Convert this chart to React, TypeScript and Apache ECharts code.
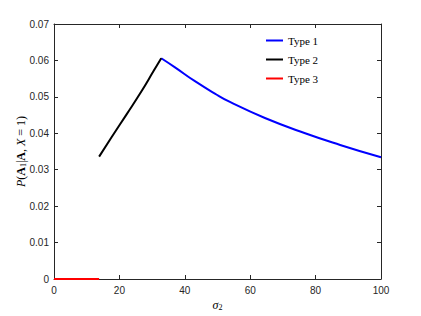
import React, { useEffect, useRef } from "react";
import * as echarts from "echarts";

const type1X = [32.8, 37.0, 43.1, 49.2, 53.8, 64.5, 76.8, 87.5, 100];
const type1Y = [0.0606, 0.0581, 0.0543, 0.0509, 0.0486, 0.0442, 0.04, 0.0368, 0.0334];
const type2X = [13.8, 17.6, 22.2, 26.8, 30.4, 32.8];
const type2Y = [0.0336, 0.0389, 0.0452, 0.0516, 0.057, 0.0606];
const type3X = [0, 13.8];
const type3Y = [0, 0];
const seriesNames = ["Type 1", "Type 2", "Type 3"];
const seriesColors = ["#0000ff", "#000000", "#ff0000"];

const zip = (xs: number[], ys: number[]) => xs.map((x, i) => [x, ys[i]]);

export default function App() {
  const ref = useRef<HTMLDivElement>(null);
  useEffect(() => {
    if (!ref.current) return;
    const chart = echarts.init(ref.current, undefined, { renderer: "svg" });
    const axisColor = "#262626";
    const tickLabel = { color: axisColor, fontFamily: "Liberation Sans", fontSize: 10 };
    const datasets = [zip(type1X, type1Y), zip(type2X, type2Y), zip(type3X, type3Y)];
    const tick = { show: true, inside: true, length: 4, lineStyle: { color: axisColor, width: 1 } };
    const line = { show: true, onZero: false, lineStyle: { color: axisColor, width: 1 } };
    chart.setOption({
      animation: false,
      backgroundColor: "#ffffff",
      grid: { left: 54, right: 40, top: 24, bottom: 35, containLabel: false },
      legend: {
        orient: "vertical",
        left: 261,
        top: 30,
        itemWidth: 17,
        itemHeight: 2,
        itemGap: 8,
        itemTextGap: 7,
        icon: "rect",
        data: seriesNames,
        textStyle: { fontFamily: "Liberation Serif", fontSize: 11, color: "#000" },
      },
      xAxis: [
        {
          type: "value",
          min: 0,
          max: 100,
          interval: 20,
          name: "{i|σ}{s|2}",
          nameLocation: "middle",
          nameGap: 19,
          nameMoveOverlap: false,
          nameTextStyle: {
            rich: {
              i: { fontFamily: "Liberation Serif", fontStyle: "italic", fontSize: 12, color: "#000" },
              s: { fontFamily: "Liberation Serif", fontSize: 8, color: "#000", padding: [5, 0, 0, 0] },
            },
          },
          axisLine: line,
          axisTick: tick,
          axisLabel: { ...tickLabel, margin: 6 },
          splitLine: { show: false },
        },
        {
          type: "value",
          position: "top",
          min: 0,
          max: 100,
          interval: 20,
          axisLine: line,
          axisTick: tick,
          axisLabel: { show: false },
          splitLine: { show: false },
        },
      ],
      yAxis: [
        {
          type: "value",
          min: 0,
          max: 0.07,
          interval: 0.01,
          name: "{i|P}({b|A}{s|1}|{b|A}, {i|X} = 1)",
          nameLocation: "middle",
          nameGap: 27,
          nameRotate: 90,
          nameMoveOverlap: false,
          nameTextStyle: {
            fontFamily: "Liberation Serif",
            fontSize: 12,
            color: "#000",
            rich: {
              i: { fontFamily: "Liberation Serif", fontStyle: "italic", fontSize: 12, color: "#000" },
              b: { fontFamily: "Liberation Serif", fontWeight: "bold", fontSize: 12, color: "#000" },
              s: { fontFamily: "Liberation Serif", fontSize: 8, color: "#000", padding: [5, 0, 0, 0] },
            },
          },
          axisLine: line,
          axisTick: tick,
          axisLabel: {
            ...tickLabel,
            margin: 5,
            formatter: (v: number) => (v === 0 ? "0" : v.toFixed(2)),
          },
          splitLine: { show: false },
        },
        {
          type: "value",
          position: "right",
          min: 0,
          max: 0.07,
          interval: 0.01,
          axisLine: line,
          axisTick: tick,
          axisLabel: { show: false },
          splitLine: { show: false },
        },
      ],
      series: seriesNames.map((name, i) => ({
        name,
        type: "line",
        xAxisIndex: 0,
        yAxisIndex: 0,
        data: datasets[i],
        showSymbol: false,
        symbol: "none",
        smooth: 0.5,
        color: seriesColors[i],
        lineStyle: { color: seriesColors[i], width: 2 },
        z: 3,
      })),
    });
    return () => chart.dispose();
  }, []);
  return (
    <div
      ref={ref}
      style={{ position: "fixed", left: 0, top: 0, width: 421, height: 316, background: "#fff" }}
    />
  );
}
